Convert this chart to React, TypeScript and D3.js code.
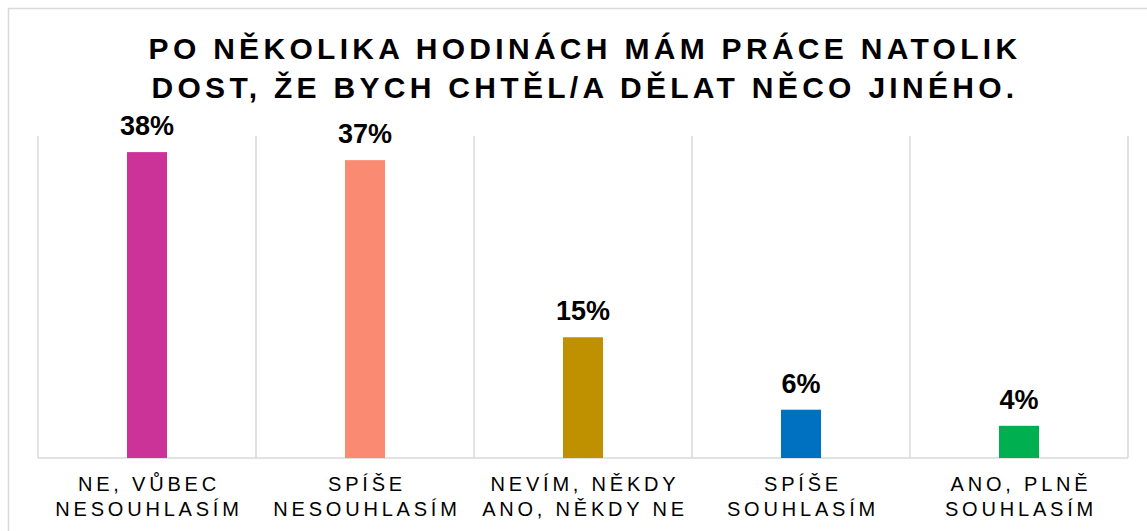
import React from "react";
import * as d3 from "d3";

const title = ["PO NĚKOLIKA HODINÁCH MÁM PRÁCE NATOLIK", "DOST, ŽE BYCH CHTĚL/A DĚLAT NĚCO JINÉHO."];
const categories = ["NE, VŮBEC\nNESOUHLASÍM", "SPÍŠE\nNESOUHLASÍM", "NEVÍM, NĚKDY\nANO, NĚKDY NE", "SPÍŠE\nSOUHLASÍM", "ANO, PLNĚ\nSOUHLASÍM"];
const values = [38, 37, 15, 6, 4];
const colors = ["#CC3399", "#FA8A72", "#BF9000", "#0070C0", "#00B050"];

const W = 1147;
const H = 531;
const FONT = "'Liberation Sans', Arial, Helvetica, sans-serif";

export default function App() {
  const x = d3.scaleBand<string>().domain(categories).range([38, 1128]).paddingInner(0).paddingOuter(0);
  const y = d3.scaleLinear().domain([0, 40]).range([458, 136]);
  const barW = 40;
  const bounds = [...categories.map((c) => x(c) as number), 1128];
  const cx = (38 + 1128) / 2;

  return (
    <svg width={W} height={H} style={{ position: "absolute", left: 0, top: 0, background: "#fff" }}>
      <rect x={8.5} y={8.5} width={W + 20} height={H + 20} fill="#fff" stroke="#d9d9d9" strokeWidth={1.5} />
      {title.map((t, i) => (
        <text key={i} x={cx + 2} y={59 + i * 39} textAnchor="middle" fontFamily={FONT} fontWeight="bold" fontSize={30} letterSpacing={4.3} fill="#000">
          {t}
        </text>
      ))}
      {bounds.map((b, i) => (
        <line key={i} x1={b} x2={b} y1={y(40)} y2={y(0)} stroke="#d9d9d9" strokeWidth={1.5} />
      ))}
      <line x1={38} x2={1128} y1={y(0)} y2={y(0)} stroke="#d9d9d9" strokeWidth={1.5} />
      {categories.map((c, i) => {
        const mid = (x(c) as number) + x.bandwidth() / 2;
        return (
          <g key={c}>
            <rect x={mid - barW / 2} y={y(values[i])} width={barW} height={y(0) - y(values[i])} fill={colors[i]} />
            <text x={mid} y={y(values[i]) - 17} textAnchor="middle" fontFamily={FONT} fontWeight="bold" fontSize={27} fill="#000">
              {values[i]}%
            </text>
            {c.split("\n").map((line, j) => (
              <text key={j} x={mid + 2} y={491 + j * 25} textAnchor="middle" fontFamily={FONT} fontSize={20} letterSpacing={3.8} fill="#000">
                {line}
              </text>
            ))}
          </g>
        );
      })}
    </svg>
  );
}
